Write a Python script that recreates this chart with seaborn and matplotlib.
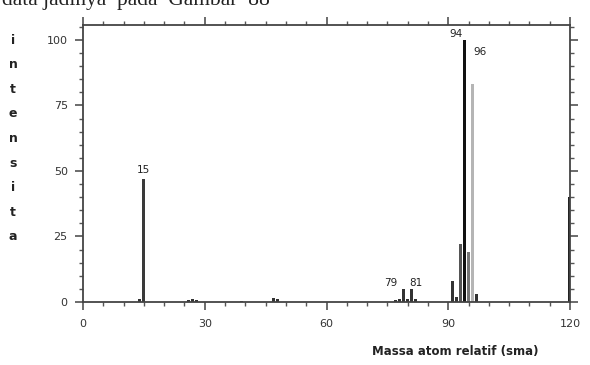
import matplotlib
matplotlib.use("Agg")
import matplotlib.pyplot as plt
import seaborn as sns
import pandas as pd
import numpy as np

# ---- data ----
mz = [14, 15, 26, 27, 28, 39, 47, 48, 77, 78, 79, 80, 81, 82,
      91, 92, 93, 94, 95, 96, 97, 120]
intensity = [1.0, 47, 0.8, 1.2, 0.6, 0.5, 1.5, 1.0, 0.8, 1.0, 5.0, 1.0, 5.0, 1.0,
             8.0, 2.0, 22, 100, 19, 83, 3.0, 40]
peak_labels = ["15", "94", "96", "79", "81"]
x_ticks = [0, 30, 60, 90, 120]
y_ticks = [0, 25, 50, 75, 100]
y_label_letters = list("intensita")
x_label = "Massa atom relatif (sma)"

df = pd.DataFrame({"mz": mz, "intensity": intensity})

sns.set_theme(style="white")
plt.rcParams["font.family"] = ["DejaVu Sans"]

fig = plt.figure(figsize=(5.9, 3.65), dpi=100)
ax = fig.add_axes([83 / 590, 1 - 302 / 365, (570 - 83) / 590, (302 - 25) / 365])

sns.barplot(data=df, x="mz", y="intensity", native_scale=True, width=0.8,
            color="#222222", ax=ax, errorbar=None, saturation=1)

shade = {15: "#3a3a3a", 93: "#555555", 94: "#111111", 95: "#777777",
         96: "#b5b5b5", 120: "#222222"}
for p in ax.patches:
    c = round(p.get_x() + p.get_width() / 2)
    p.set_facecolor(shade.get(c, "#333333"))
    p.set_edgecolor("none")

ax.set_xlim(0, 120)
ax.set_ylim(0, 105.7)
ax.set_xticks(x_ticks)
ax.set_xticklabels([str(t) for t in x_ticks])
ax.set_yticks(y_ticks)
ax.set_yticklabels([str(t) for t in y_ticks])
ax.set_xticks(np.arange(0, 121, 5), minor=True)
ax.set_yticks(np.arange(0, 106, 5), minor=True)
ax.set_xlabel("")
ax.set_ylabel("")

for s in ax.spines.values():
    s.set_visible(True)
    s.set_color("#444444")
    s.set_linewidth(1.3)

ax.tick_params(axis="both", which="major", direction="out", length=6, width=1.1,
               color="#444444", labelsize=8, labelcolor="#333333",
               top=True, right=True, bottom=True, left=True,
               labeltop=False, labelright=False)
ax.tick_params(axis="both", which="minor", direction="out", length=3, width=1.0,
               color="#555555", top=True, right=True, bottom=True, left=True)
ax.tick_params(axis="x", which="major", pad=6)
ax.tick_params(axis="y", which="major", pad=5)

# peak labels
lab_pos = {"15": (15, 48.5), "94": (92.0, 100.5), "96": (97.8, 93.5),
           "79": (75.8, 5.5), "81": (82.0, 5.5)}
for lab in peak_labels:
    x, y = lab_pos[lab]
    ax.text(x, y, lab, ha="center", va="bottom", fontsize=7.5, color="#222222")

# stacked vertical y label
for i, ch in enumerate(y_label_letters):
    fig.text(13 / 590, 1 - (40 + i * 24.6) / 365, ch, ha="center", va="center",
             fontsize=9, fontweight="bold", color="#222222")

fig.text(455 / 590, 1 - 352 / 365, x_label, ha="center", va="center",
         fontsize=8.5, fontweight="bold", color="#222222")

# partly cut-off line of document text at the top (as in the scan)
fig.text(2 / 590, 1 - 1 / 365, "data jadinya  pada  Gambar  88", ha="left", va="center",
         fontsize=15.5, family="Liberation Serif", color="#222222")

fig.savefig("out.png", dpi=100)
